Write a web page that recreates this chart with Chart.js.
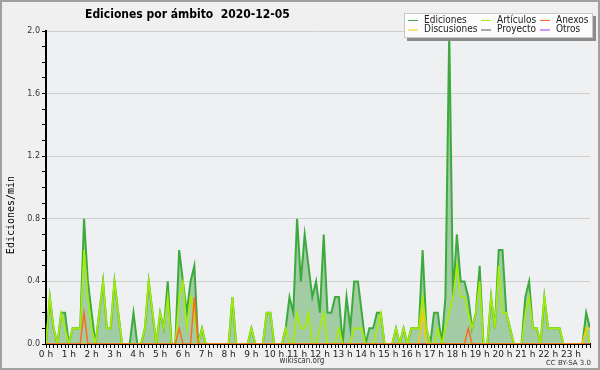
<!DOCTYPE html>
<html>
<head>
<meta charset="utf-8">
<script src="https://cdn.jsdelivr.net/npm/chart.js@4.4.0/dist/chart.umd.min.js"></script>
<style>
  html, body { margin: 0; padding: 0; background: #f0f0f0; }
</style>
</head>
<body>
<canvas id="chart" width="600" height="370"></canvas>
<script>
// one value every 10 minutes, 00:00 -> 23:50 (edits per minute)
const ediciones = [
  0, 0.3, 0.1, 0, 0.2, 0.2, 0, 0.1, 0.1, 0.1, 0.8, 0.4,
  0.2, 0, 0.2, 0.4, 0.1, 0.1, 0.4, 0.2, 0, 0, 0, 0.2,
  0, 0, 0.1, 0.4, 0.2, 0, 0.2, 0.1, 0.4, 0, 0, 0.6,
  0.4, 0.2, 0.4, 0.5, 0, 0.1, 0, 0, 0, 0, 0, 0,
  0, 0.3, 0, 0, 0, 0, 0.1, 0, 0, 0, 0.2, 0.2,
  0, 0, 0, 0.1, 0.3, 0.2, 0.8, 0.4, 0.7, 0.5, 0.3, 0.4,
  0.2, 0.7, 0.2, 0.2, 0.3, 0.3, 0, 0.3, 0.1, 0.4, 0.4, 0.2,
  0, 0.1, 0.1, 0.2, 0.2, 0, 0, 0, 0.1, 0, 0.1, 0,
  0.1, 0.1, 0.1, 0.6, 0.1, 0, 0.2, 0.2, 0, 0.3, 2.0, 0.3,
  0.7, 0.4, 0.4, 0.3, 0.1, 0.2, 0.5, 0, 0, 0.3, 0.1, 0.6,
  0.6, 0.2, 0.1, 0, 0, 0, 0.3, 0.4, 0.1, 0.1, 0, 0.3,
  0.1, 0.1, 0.1, 0.1, 0, 0, 0, 0, 0, 0, 0.2, 0.1
];
const articulos = [
  0, 0.3, 0.1, 0, 0.2, 0.1, 0, 0.1, 0.1, 0.1, 0.6, 0.3,
  0.1, 0, 0.2, 0.4, 0.1, 0.1, 0.4, 0.2, 0, 0, 0, 0,
  0, 0, 0.1, 0.4, 0.2, 0, 0.2, 0.1, 0.3, 0, 0, 0.3,
  0.4, 0.1, 0.3, 0.2, 0, 0.1, 0, 0, 0, 0, 0, 0,
  0, 0.3, 0, 0, 0, 0, 0.1, 0, 0, 0, 0.2, 0.2,
  0, 0, 0, 0.1, 0, 0, 0.2, 0.1, 0.1, 0.2, 0, 0,
  0.1, 0.2, 0, 0, 0, 0.1, 0, 0, 0, 0.1, 0.1, 0.1,
  0, 0, 0, 0.1, 0.2, 0, 0, 0, 0.1, 0, 0.1, 0,
  0.1, 0.1, 0.1, 0.3, 0.1, 0, 0, 0.1, 0, 0.1, 0.2, 0.3,
  0.5, 0.3, 0.3, 0.2, 0.1, 0.2, 0.4, 0, 0, 0.3, 0.1, 0.5,
  0.2, 0.2, 0.1, 0, 0, 0, 0.2, 0.3, 0.1, 0.1, 0, 0.3,
  0.1, 0.1, 0.1, 0.1, 0, 0, 0, 0, 0, 0, 0.1, 0
];
const anexos = [
  0, 0, 0, 0, 0, 0, 0, 0, 0, 0, 0.2, 0,
  0, 0, 0, 0, 0, 0, 0, 0, 0, 0, 0, 0,
  0, 0, 0, 0, 0, 0, 0, 0, 0, 0, 0, 0.1,
  0, 0, 0, 0.3, 0, 0, 0, 0, 0, 0, 0, 0,
  0, 0, 0, 0, 0, 0, 0, 0, 0, 0, 0, 0,
  0, 0, 0, 0, 0, 0, 0, 0, 0, 0, 0, 0,
  0, 0, 0, 0, 0, 0, 0, 0, 0, 0, 0, 0,
  0, 0, 0, 0, 0, 0, 0, 0, 0, 0, 0, 0,
  0, 0, 0, 0, 0, 0, 0, 0, 0, 0, 0, 0,
  0, 0, 0, 0.1, 0, 0, 0, 0, 0, 0, 0, 0,
  0, 0, 0, 0, 0, 0, 0, 0, 0, 0, 0, 0,
  0, 0, 0, 0, 0, 0, 0, 0, 0, 0, 0, 0
];
const discusiones = [
  0, 0, 0, 0, 0, 0, 0, 0, 0, 0, 0, 0,
  0, 0, 0, 0, 0, 0, 0, 0, 0, 0, 0, 0,
  0, 0, 0, 0, 0, 0, 0, 0, 0, 0, 0, 0,
  0, 0, 0, 0, 0, 0, 0, 0, 0, 0, 0, 0,
  0, 0, 0, 0, 0, 0, 0, 0, 0, 0, 0, 0,
  0, 0, 0, 0, 0, 0, 0, 0, 0, 0, 0, 0,
  0, 0, 0, 0, 0, 0, 0, 0, 0, 0, 0, 0,
  0, 0, 0, 0, 0, 0, 0, 0, 0, 0, 0, 0,
  0, 0, 0, 0.2, 0, 0, 0, 0, 0, 0, 0, 0,
  0, 0, 0, 0, 0, 0, 0, 0, 0, 0, 0, 0,
  0, 0, 0, 0, 0, 0, 0, 0, 0, 0, 0, 0,
  0, 0, 0, 0, 0, 0, 0, 0, 0, 0, 0.1, 0.1
];
const proyecto = [
  0, 0, 0, 0, 0, 0, 0, 0, 0, 0, 0, 0,
  0, 0, 0, 0, 0, 0, 0, 0, 0, 0, 0, 0,
  0, 0, 0, 0, 0, 0, 0, 0, 0, 0, 0, 0,
  0, 0, 0, 0, 0, 0, 0, 0, 0, 0, 0, 0,
  0, 0, 0, 0, 0, 0, 0, 0, 0, 0, 0, 0,
  0, 0, 0, 0, 0, 0, 0, 0, 0, 0, 0, 0,
  0, 0, 0, 0, 0, 0, 0, 0, 0, 0, 0, 0,
  0, 0, 0, 0, 0, 0, 0, 0, 0, 0, 0, 0,
  0, 0, 0, 0, 0, 0, 0, 0, 0, 0, 0, 0,
  0, 0, 0, 0, 0, 0, 0, 0, 0, 0, 0, 0,
  0, 0, 0, 0, 0, 0, 0, 0, 0, 0, 0, 0,
  0, 0, 0, 0, 0, 0, 0, 0, 0, 0, 0, 0
];
const otros = [
  0, 0, 0, 0, 0, 0, 0, 0, 0, 0, 0, 0,
  0, 0, 0, 0, 0, 0, 0, 0, 0, 0, 0, 0,
  0, 0, 0, 0, 0, 0, 0, 0, 0, 0, 0, 0,
  0, 0, 0, 0, 0, 0, 0, 0, 0, 0, 0, 0,
  0, 0, 0, 0, 0, 0, 0, 0, 0, 0, 0, 0,
  0, 0, 0, 0, 0, 0, 0, 0, 0, 0, 0, 0,
  0, 0, 0, 0, 0, 0, 0, 0, 0, 0, 0, 0,
  0, 0, 0, 0, 0, 0, 0, 0, 0, 0, 0, 0,
  0, 0, 0, 0, 0, 0, 0, 0, 0, 0, 0, 0,
  0, 0, 0, 0, 0, 0, 0, 0, 0, 0, 0, 0,
  0, 0, 0, 0, 0, 0, 0, 0, 0, 0, 0, 0,
  0, 0, 0, 0, 0, 0, 0, 0, 0, 0, 0, 0
];

const hourLabels = ['0 h', '1 h', '2 h', '3 h', '4 h', '5 h', '6 h', '7 h', '8 h', '9 h', '10 h', '11 h',
  '12 h', '13 h', '14 h', '15 h', '16 h', '17 h', '18 h', '19 h', '20 h', '21 h', '22 h', '23 h'];
const yLabels = ['0.0', '0.4', '0.8', '1.2', '1.6', '2.0'];

const seriesNames = ['Ediciones', 'Artículos', 'Anexos', 'Discusiones', 'Proyecto', 'Otros'];
const seriesColors = ['#3daa3d', '#a6ee00', '#ff6a1c', '#ffc800', '#555555', '#9933ff'];

const titleText = 'Ediciones por ámbito  2020-12-05';

function pts(arr) {
    return arr.map((v, i) => ({ x: i, y: v }));
}

function line(idx, arr, order, width) {
    return {
        label: seriesNames[idx],
        data: pts(arr),
        borderColor: seriesColors[idx],
        borderWidth: width,
        pointRadius: 0,
        tension: 0,
        fill: false,
        order: order
    };
}

const datasets = [
    Object.assign(line(0, ediciones, 10, 2), {
        fill: 'origin',
        backgroundColor: 'rgba(85,170,85,0.5)'
    }),
    line(4, proyecto, 9, 1.5),
    line(5, otros, 8, 1.5),
    line(1, articulos, 3, 1.6),
    line(3, discusiones, 2, 1.5),
    line(2, anexos, 1, 1.5)
];

// background, frame, title, legend and footer texts
const decor = {
    id: 'decor',
    beforeDraw(chart) {
        const ctx = chart.ctx, a = chart.chartArea;
        ctx.save();
        ctx.fillStyle = '#f0f0f0';
        ctx.fillRect(0, 0, chart.width, chart.height);
        ctx.fillStyle = '#eef0f2';
        ctx.fillRect(a.left, a.top, a.right - a.left, a.bottom - a.top);
        ctx.restore();
    },
    afterDraw(chart) {
        const ctx = chart.ctx;
        ctx.save();

        // title
        ctx.fillStyle = '#000';
        ctx.font = 'bold 12px "DejaVu Sans Condensed", "DejaVu Sans"';
        ctx.textBaseline = 'middle';
        ctx.textAlign = 'left';
        ctx.fillText(titleText, 85, 15);

        // y axis title
        ctx.save();
        ctx.translate(11, 215);
        ctx.rotate(-Math.PI / 2);
        ctx.textAlign = 'center';
        ctx.font = '10px "DejaVu Sans Mono"';
        ctx.fillStyle = '#000';
        ctx.fillText('Ediciones/min', 0, 0);
        ctx.restore();

        // footer
        ctx.textAlign = 'center';
        ctx.font = '8px "DejaVu Sans Condensed", "DejaVu Sans"';
        ctx.fillStyle = '#333';
        ctx.fillText('wikiscan.org', 302, 361);
        ctx.textAlign = 'right';
        ctx.font = '7px "DejaVu Sans"';
        ctx.fillText('CC BY-SA 3.0', 591, 363);

        // legend box
        ctx.fillStyle = '#8c8c8c';
        ctx.fillRect(407, 16, 189, 25);
        ctx.fillStyle = '#fcfcfc';
        ctx.fillRect(404, 13, 189, 25);
        ctx.strokeStyle = '#c8c8c8';
        ctx.lineWidth = 1;
        ctx.strokeRect(404.5, 13.5, 188, 24);

        const colX = [408, 481, 540];
        const rowY = [20, 29.5];
        const order = [[0, 1, 2], [3, 4, 5]];
        ctx.font = '10px "DejaVu Sans Condensed", "DejaVu Sans"';
        ctx.textAlign = 'left';
        for (let r = 0; r < 2; r++) {
            for (let c = 0; c < 3; c++) {
                const k = order[r][c];
                ctx.strokeStyle = seriesColors[k];
                ctx.lineWidth = 1;
                ctx.beginPath();
                ctx.moveTo(colX[c], rowY[r] + 0.5);
                ctx.lineTo(colX[c] + 10, rowY[r] + 0.5);
                ctx.stroke();
                ctx.fillStyle = '#222';
                ctx.fillText(seriesNames[k], colX[c] + 16, rowY[r]);
            }
        }

        // outer frame
        ctx.strokeStyle = '#a0a0a0';
        ctx.lineWidth = 2;
        ctx.strokeRect(1, 1, chart.width - 2, chart.height - 2);
        ctx.restore();
    }
};

new Chart(document.getElementById('chart'), {
    type: 'line',
    data: { datasets: datasets },
    options: {
        responsive: false,
        devicePixelRatio: 1,
        animation: false,
        layout: { padding: { left: 0, right: 10, top: 31, bottom: 0 } },
        plugins: {
            legend: { display: false },
            title: { display: false },
            tooltip: { enabled: false }
        },
        scales: {
            x: {
                type: 'linear',
                min: 0,
                max: 143,
                z: 1,
                afterFit(s) { s.height = 26; },
                border: { color: '#000', width: 2 },
                grid: { drawOnChartArea: false, tickLength: 4, tickColor: '#000' },
                ticks: {
                    stepSize: 1,
                    autoSkip: false,
                    maxRotation: 0,
                    padding: 1,
                    color: '#222',
                    font: { family: '"DejaVu Sans"', size: 9 },
                    callback: function (v) {
                        return v % 6 === 0 ? hourLabels[v / 6] : '';
                    }
                }
            },
            y: {
                min: 0,
                max: 2,
                afterFit(s) { s.width = 46; },
                border: { color: '#000', width: 2 },
                grid: {
                    tickLength: 4,
                    tickColor: '#000',
                    color: function (c) {
                        if (!c.tick) return 'transparent';
                        const k = Math.round(c.tick.value * 10);
                        return (k % 4 === 0 && k > 0) ? '#cfcfcf' : 'transparent';
                    }
                },
                ticks: {
                    stepSize: 0.1,
                    autoSkip: false,
                    padding: 2,
                    color: '#333',
                    font: { family: '"DejaVu Sans"', size: 8 },
                    callback: function (v) {
                        const k = Math.round(v * 10);
                        return k % 4 === 0 ? yLabels[k / 4] : '';
                    }
                }
            }
        }
    },
    plugins: [decor]
});
</script>
</body>
</html>
